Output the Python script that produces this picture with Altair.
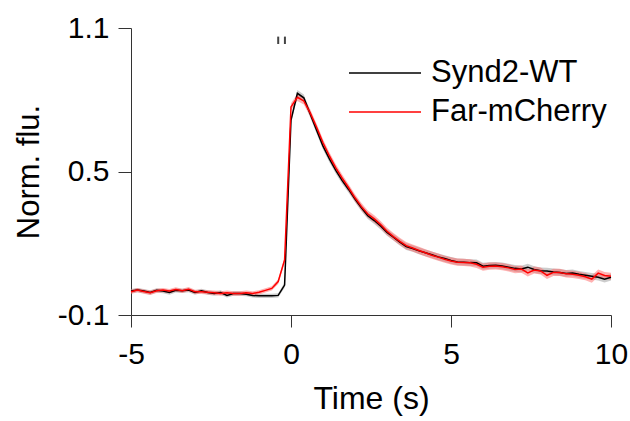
import altair as alt
import pandas as pd

# time grid (s)
time = [-5.0, -4.8, -4.6, -4.4, -4.2, -4.0, -3.8, -3.6, -3.4, -3.2,
        -3.0, -2.8, -2.6, -2.4, -2.2, -2.0, -1.8, -1.6, -1.4, -1.2,
        -1.0, -0.8, -0.6, -0.4, -0.2, 0.0, 0.2, 0.4, 0.6, 0.8,
        1.0, 1.2, 1.4, 1.6, 1.8, 2.0, 2.2, 2.4, 2.6, 2.8,
        3.0, 3.2, 3.4, 3.6, 3.8, 4.0, 4.2, 4.4, 4.6, 4.8,
        5.0, 5.2, 5.4, 5.6, 5.8, 6.0, 6.2, 6.4, 6.6, 6.8,
        7.0, 7.2, 7.4, 7.6, 7.8, 8.0, 8.2, 8.4, 8.6, 8.8,
        9.0, 9.2, 9.4, 9.6, 9.8, 10.0]

wt = [0.000, 0.004, 0.000, -0.006, 0.003, 0.000, -0.006, 0.003, 0.001, 0.004,
      -0.006, 0.001, -0.006, -0.010, -0.006, -0.018, -0.010, -0.010, -0.013, -0.018,
      -0.020, -0.020, -0.020, -0.018, 0.025, 0.715, 0.827, 0.808, 0.740, 0.673,
      0.606, 0.553, 0.505, 0.462, 0.425, 0.385, 0.348, 0.315, 0.295, 0.272,
      0.245, 0.225, 0.205, 0.186, 0.178, 0.168, 0.160, 0.152, 0.143, 0.136,
      0.128, 0.122, 0.121, 0.119, 0.118, 0.104, 0.107, 0.108, 0.105, 0.100,
      0.095, 0.092, 0.100, 0.090, 0.085, 0.084, 0.080, 0.078, 0.074, 0.076,
      0.070, 0.066, 0.062, 0.058, 0.050, 0.058]

far = [-0.003, 0.004, -0.002, -0.007, 0.001, 0.004, 0.000, 0.007, 0.001, 0.008,
       -0.003, -0.003, -0.005, -0.007, -0.010, -0.007, -0.010, -0.010, -0.007, -0.010,
       -0.005, 0.003, 0.011, 0.040, 0.130, 0.770, 0.810, 0.795, 0.745, 0.685,
       0.620, 0.565, 0.515, 0.472, 0.432, 0.390, 0.353, 0.322, 0.302, 0.278,
       0.250, 0.228, 0.208, 0.190, 0.180, 0.170, 0.160, 0.150, 0.142, 0.133,
       0.126, 0.121, 0.120, 0.118, 0.112, 0.100, 0.104, 0.105, 0.102, 0.097,
       0.090, 0.092, 0.076, 0.088, 0.084, 0.066, 0.078, 0.078, 0.072, 0.070,
       0.066, 0.060, 0.050, 0.075, 0.065, 0.062]

wt_sem = [0.009, 0.009, 0.009, 0.009, 0.009, 0.009, 0.009, 0.009, 0.009, 0.009,
          0.009, 0.009, 0.009, 0.009, 0.009, 0.009, 0.009, 0.009, 0.009, 0.009,
          0.009, 0.009, 0.009, 0.009, 0.011, 0.014, 0.014, 0.014, 0.014, 0.014,
          0.014, 0.014, 0.014, 0.014, 0.014, 0.014, 0.014, 0.014, 0.014, 0.014,
          0.014, 0.014, 0.014, 0.014, 0.014, 0.014, 0.014, 0.014, 0.014, 0.014,
          0.014, 0.014, 0.014, 0.014, 0.014, 0.014, 0.014, 0.014, 0.014, 0.014,
          0.014, 0.014, 0.014, 0.014, 0.014, 0.014, 0.014, 0.014, 0.014, 0.014,
          0.014, 0.014, 0.014, 0.014, 0.014, 0.014]

far_sem = [0.009, 0.009, 0.009, 0.009, 0.009, 0.009, 0.009, 0.009, 0.009, 0.009,
           0.009, 0.009, 0.009, 0.009, 0.009, 0.009, 0.009, 0.009, 0.009, 0.009,
           0.009, 0.009, 0.009, 0.010, 0.011, 0.015, 0.015, 0.015, 0.015, 0.015,
           0.015, 0.015, 0.015, 0.015, 0.015, 0.015, 0.015, 0.015, 0.015, 0.015,
           0.015, 0.015, 0.015, 0.015, 0.015, 0.015, 0.015, 0.015, 0.015, 0.015,
           0.015, 0.015, 0.015, 0.015, 0.015, 0.015, 0.015, 0.015, 0.015, 0.015,
           0.015, 0.015, 0.015, 0.015, 0.015, 0.015, 0.015, 0.015, 0.015, 0.015,
           0.015, 0.015, 0.015, 0.015, 0.015, 0.015]

series_names = ["Synd2-WT", "Far-mCherry"]
line_colors = ["#000000", "#ff0000"]
band_colors = ["#999999", "#ff6666"]

stim_times = [-0.40, -0.19]
stim_lo = [1.033, 1.033]
stim_hi = [1.064, 1.064]

x_ticks = [-5, 0, 5, 10]
y_ticks = [-0.1, 0.5, 1.1]

FONT = "Liberation Sans"

rows = []
for name, vals, sems in [(series_names[0], wt, wt_sem), (series_names[1], far, far_sem)]:
    for t, v, s in zip(time, vals, sems):
        rows.append({"t": t, "v": v, "lo": v - s, "hi": v + s, "series": name})
df = pd.DataFrame(rows)

xs = alt.Scale(domain=[-5, 10], nice=False, zero=False)
ys = alt.Scale(domain=[-0.1, 1.1], nice=False, zero=False)

x_axis = alt.Axis(values=x_ticks, title="Time (s)", labelFontSize=30, titleFontSize=32,
                  tickSize=12, labelPadding=12, titlePadding=14, grid=False,
                  labelFlush=False, labelOverlap=False,
                  labelExpr="replace(datum.label, '\u2212', '-')")
y_axis = alt.Axis(values=y_ticks, format=".1f", title="Norm. flu.", labelFontSize=30,
                  titleFontSize=31, tickSize=13, labelPadding=9, titlePadding=12, grid=False,
                  labelFlush=False, labelOverlap=False,
                  labelExpr="replace(datum.label, '\u2212', '-')")

layers = []
for name, bc in zip(series_names, band_colors):
    layers.append(
        alt.Chart(df).transform_filter(alt.datum.series == name).mark_area(
            color=bc, opacity=0.5, interpolate="linear"
        ).encode(
            x=alt.X("t:Q", scale=xs, axis=x_axis),
            y=alt.Y("lo:Q", scale=ys, axis=y_axis),
            y2="hi:Q",
        )
    )
for name, lc in zip(series_names, line_colors):
    layers.append(
        alt.Chart(df).transform_filter(alt.datum.series == name).mark_line(
            color=lc, strokeWidth=1.5
        ).encode(
            x=alt.X("t:Q", scale=xs, axis=x_axis),
            y=alt.Y("v:Q", scale=ys, axis=y_axis),
        )
    )

stim_df = pd.DataFrame({"t": stim_times, "lo": stim_lo, "hi": stim_hi})
layers.append(
    alt.Chart(stim_df).mark_rule(color="#444444", strokeWidth=2).encode(
        x=alt.X("t:Q", scale=xs, axis=x_axis),
        y=alt.Y("lo:Q", scale=ys, axis=y_axis),
        y2="hi:Q",
    )
)

# legend
for i, (name, lc) in enumerate(zip(series_names, line_colors)):
    ld = pd.DataFrame({"label": [name]})
    layers.append(
        alt.Chart(ld).mark_rule(color=lc, strokeWidth=1.5).encode(
            x=alt.value(218), x2=alt.value(290), y=alt.value(45 + 39 * i)
        )
    )
    layers.append(
        alt.Chart(ld).mark_text(align="left", baseline="middle", fontSize=31, font=FONT,
                                color="#000000").encode(
            x=alt.value(300), y=alt.value(45 + 39 * i), text="label:N"
        )
    )

chart = alt.layer(*layers).properties(
    width=480, height=287,
    autosize=alt.AutoSizeParams(type="none"),
    padding={"left": 131, "top": 28, "right": 19, "bottom": 106},
).configure_view(stroke=None).configure_axis(
    labelFont=FONT, titleFont=FONT, labelColor="#000000", titleColor="#000000",
    domainColor="#333333", tickColor="#333333", domainWidth=1, tickWidth=1,
    titleFontWeight="normal",
)

chart.save("out.html", embed_options={"renderer": "svg", "actions": False})
